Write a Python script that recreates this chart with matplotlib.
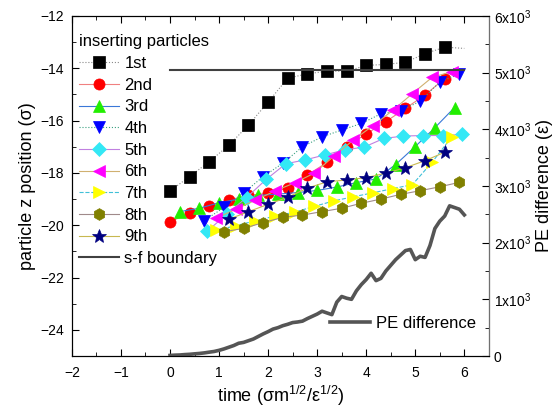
import matplotlib
matplotlib.use("Agg")
import matplotlib.pyplot as plt
from matplotlib.ticker import MultipleLocator, FixedLocator

plt.rcParams['font.family'] = ['Liberation Sans', 'DejaVu Sans']
plt.rcParams['mathtext.default'] = 'regular'

# ---- data ----
labels = ["1st", "2nd", "3rd", "4th", "5th", "6th", "7th", "8th", "9th"]

t_1st = [0.0, 0.4, 0.8, 1.2, 1.6, 2.0, 2.4, 2.8, 3.2, 3.6, 4.0, 4.4, 4.8, 5.2, 5.6, 6.0]
z_1st = [-18.69, -18.14, -17.57, -16.94, -16.17, -15.29, -14.38, -14.21, -14.11, -14.11,
         -13.89, -13.85, -13.77, -13.44, -13.19, -13.24]
t_2nd = [0.0, 0.4, 0.8, 1.2, 1.6, 2.0, 2.4, 2.8, 3.2, 3.6, 4.0, 4.4, 4.8, 5.2, 5.6]
z_2nd = [-19.86, -19.55, -19.26, -19.04, -18.86, -18.78, -18.58, -18.08, -17.60, -16.99,
         -16.51, -16.04, -15.53, -15.02, -14.39]
t_3rd = [0.2, 0.6, 1.0, 1.4, 1.8, 2.2, 2.6, 3.0, 3.4, 3.8, 4.2, 4.6, 5.0, 5.4, 5.8]
z_3rd = [-19.48, -19.35, -19.14, -19.00, -18.86, -18.81, -18.75, -18.67, -18.54, -18.37,
         -18.23, -17.68, -16.99, -16.27, -15.50]
t_4th = [0.7, 1.1, 1.5, 1.9, 2.3, 2.7, 3.1, 3.5, 3.9, 4.3, 4.7, 5.1, 5.5, 5.9]
z_4th = [-19.82, -19.32, -18.76, -18.14, -17.63, -17.00, -16.62, -16.36, -16.11, -15.74,
         -15.62, -15.26, -14.52, -14.22]
t_5th = [0.76, 1.16, 1.56, 1.96, 2.36, 2.76, 3.16, 3.56, 3.96, 4.36, 4.76, 5.16, 5.56, 5.96]
z_5th = [-20.23, -19.57, -18.94, -18.25, -17.65, -17.50, -17.31, -17.12, -17.01, -16.68,
         -16.59, -16.57, -16.57, -16.53]
t_6th = [0.94, 1.34, 1.74, 2.14, 2.54, 2.94, 3.34, 3.74, 4.14, 4.54, 4.94, 5.34, 5.74]
z_6th = [-19.73, -19.39, -19.04, -18.69, -18.38, -18.01, -17.36, -16.74, -16.19, -15.61,
         -14.97, -14.35, -14.13]
t_7th = [0.94, 1.34, 1.74, 2.14, 2.54, 2.94, 3.34, 3.74, 4.14, 4.54, 4.94, 5.34, 5.74]
z_7th = [-20.19, -20.02, -19.83, -19.65, -19.50, -19.28, -19.07, -18.91, -18.76, -18.60,
         -18.45, -17.60, -16.63]
t_8th = [1.1, 1.5, 1.9, 2.3, 2.7, 3.1, 3.5, 3.9, 4.3, 4.7, 5.1, 5.5, 5.9]
z_8th = [-20.25, -20.12, -19.90, -19.70, -19.61, -19.48, -19.35, -19.16, -19.00, -18.82,
         -18.68, -18.53, -18.36]
t_9th = [1.2, 1.6, 2.0, 2.4, 2.8, 3.2, 3.6, 4.0, 4.4, 4.8, 5.2, 5.6]
z_9th = [-19.77, -19.48, -19.20, -18.93, -18.58, -18.34, -18.27, -18.18, -18.01, -17.80,
         -17.53, -17.21]

boundary_t = [0.0, 6.0]
boundary_z = [-14.06, -14.06]

pe_t = [0.0, 0.1, 0.2, 0.3, 0.4, 0.5, 0.6, 0.7, 0.8, 0.9, 1.0, 1.1, 1.2, 1.3, 1.4, 1.5,
        1.6, 1.7, 1.8, 1.9, 2.0, 2.1, 2.2, 2.3, 2.4, 2.5, 2.6, 2.7, 2.8, 2.9, 3.0, 3.1,
        3.2, 3.3, 3.4, 3.5, 3.6, 3.7, 3.8, 3.9, 4.0, 4.1, 4.2, 4.3, 4.4, 4.5, 4.6, 4.7,
        4.8, 4.9, 5.0, 5.1, 5.2, 5.3, 5.4, 5.5, 5.6, 5.7, 5.8, 5.9, 6.0]
pe_v = [10, 15, 18, 25, 30, 38, 45, 55, 68, 80, 100, 125, 155, 185, 225, 240,
        270, 300, 345, 390, 430, 475, 500, 535, 560, 590, 600, 615, 660, 700, 740, 790,
        760, 730, 950, 1050, 1020, 1000, 1150, 1260, 1350, 1460, 1330, 1370, 1500, 1600,
        1700, 1780, 1860, 1880, 1700, 1760, 1740, 1950, 2250, 2380, 2470, 2650, 2620,
        2590, 2490]

right_ticks = [0, 1000, 2000, 3000, 4000, 5000, 6000]
right_ticklabels = ["0", "1x10$^3$", "2x10$^3$", "3x10$^3$", "4x10$^3$", "5x10$^3$", "6x10$^3$"]

# ---- styles ----
series = [
    (t_1st, z_1st, 's', '#000000', '#8a8a8a', ':', 15),
    (t_2nd, z_2nd, 'o', '#ff0000', '#f08080', '-', None),
    (t_3rd, z_3rd, '^', '#22ee00', '#3a78d8', '-', None),
    (t_4th, z_4th, 'v', '#0000ff', '#3aa080', ':', None),
    (t_5th, z_5th, 'D', '#33e8f5', '#c080e0', '-', None),
    (t_6th, z_6th, '<', '#ff00ff', '#d0b070', '-', None),
    (t_7th, z_7th, '>', '#ffff00', '#40c0d8', '--', None),
    (t_8th, z_8th, 'h', '#808000', '#a08a8a', '-', None),
    (t_9th, z_9th, '*', '#000080', '#c8b850', '-', None),
]
msizes = {'s': 8, 'o': 8, '^': 8.5, 'v': 8.5, 'D': 7, '<': 8.5, '>': 8.5, 'h': 8.5, '*': 10.5}

fig = plt.figure(figsize=(5.53, 4.07), dpi=100)
ax = fig.add_axes([0.130, 0.1253, 0.754, 0.8354])

handles = []
for (t, z, m, mc, lc, ls, nmark), lab in zip(series, labels):
    me = slice(0, nmark) if nmark else None
    h, = ax.plot(t, z, linestyle=ls, color=lc, lw=0.8, marker=m, markersize=msizes[m],
                 markerfacecolor=mc, markeredgecolor=mc, markeredgewidth=0.5,
                 markevery=me, label=lab)
    handles.append(h)
hb, = ax.plot(boundary_t, boundary_z, color='#404040', lw=1.5, label='s-f boundary')
handles.append(hb)

ax.set_xlim(-2, 6.5)
ax.set_ylim(-25, -12)
ax.xaxis.set_major_locator(MultipleLocator(1))
ax.xaxis.set_minor_locator(MultipleLocator(0.5))
ax.yaxis.set_major_locator(MultipleLocator(2))
ax.yaxis.set_minor_locator(MultipleLocator(1))
ax.tick_params(which='both', direction='in', top=True, right=False, labelsize=10)
ax.tick_params(which='major', length=5)
ax.tick_params(which='minor', length=3)
ax.tick_params(axis='x', pad=7)
ax.tick_params(axis='y', pad=5.5)
ax.set_xlabel('time (σm$^{1/2}$/ε$^{1/2}$)', fontsize=13, labelpad=3)
ax.set_ylabel('particle z position (σ)', fontsize=13, labelpad=3)

leg = ax.legend(handles=handles, loc='upper left', bbox_to_anchor=(0.018, 0.946),
                frameon=False, fontsize=12, title='inserting particles',
                title_fontsize=12, alignment='left', handlelength=2.4,
                handletextpad=0.3, labelspacing=0.4, borderpad=0, borderaxespad=0)

ax2 = ax.twinx()
hpe, = ax2.plot(pe_t, pe_v, color='#555555', lw=2.6, label='PE difference')
ax2.set_ylim(0, 6000)
ax2.yaxis.set_major_locator(FixedLocator(right_ticks))
ax2.set_yticklabels(right_ticklabels)
ax2.yaxis.set_minor_locator(MultipleLocator(500))
ax2.tick_params(which='both', direction='in', labelsize=10)
ax2.tick_params(which='major', length=5)
ax2.tick_params(which='minor', length=3)
ax2.set_ylabel('PE difference (ε)', fontsize=13, labelpad=4)
ax2.legend(handles=[hpe], loc='lower right', bbox_to_anchor=(0.97, 0.075), frameon=False,
           fontsize=12, handlelength=2.4, handletextpad=0.4, borderpad=0, borderaxespad=0)
ax2.spines['right'].set_color('#707070')

fig.savefig('out.png', dpi=100)
